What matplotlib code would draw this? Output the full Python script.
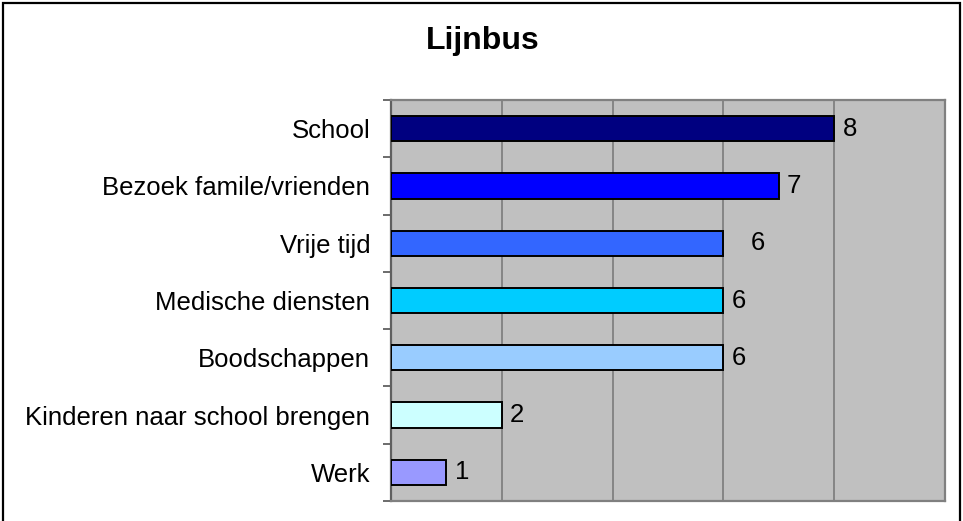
import matplotlib

matplotlib.use("Agg")
import matplotlib.pyplot as plt
from matplotlib.patches import Rectangle

plt.rcParams["font.family"] = ["Liberation Sans", "DejaVu Sans"]

# Lijnbus: reasons for travelling by bus
categories = [
    "School",
    "Bezoek famile/vrienden",
    "Vrije tijd",
    "Medische diensten",
    "Boodschappen",
    "Kinderen naar school brengen",
    "Werk",
]
counts = [8, 7, 6, 6, 6, 2, 1]
colors = ["#000080", "#0000FF", "#3366FF", "#00CCFF", "#99CCFF", "#CCFFFF", "#9999FF"]
# "Vrije tijd" label sits a little further out than the others
label_offsets = [0.15, 0.15, 0.5, 0.15, 0.15, 0.15, 0.15]

fig = plt.figure(figsize=(9.63, 5.21), dpi=100)
ax = fig.add_axes([391 / 963, 1 - 501 / 521, 554 / 963, 401 / 521])
ax.set_facecolor("#C0C0C0")

y = list(range(len(categories)))
ax.barh(y, counts, height=0.44, color=colors, edgecolor="black", linewidth=1.4, zorder=3)
for yi, v, off in zip(y, counts, label_offsets):
    ax.text(v + off, yi, str(v), va="center", ha="left", fontsize=18.5, zorder=4)

ax.set_xlim(0, 10)
ax.set_ylim(len(categories) - 0.5, -0.5)
ax.set_xticks([2, 4, 6, 8])
ax.xaxis.grid(True, color="#808080", linewidth=1.3, zorder=1)
ax.tick_params(axis="x", length=0, labelbottom=False)

ax.set_yticks(y)
ax.set_yticklabels(categories, fontsize=18.5)
ax.set_yticks([i - 0.5 for i in range(len(categories) + 1)], minor=True)
ax.tick_params(axis="y", which="major", length=0, pad=15)
ax.tick_params(axis="y", which="minor", length=6, width=1.3, color="#606060")

for side, sp in ax.spines.items():
    sp.set_color("#808080")
    sp.set_linewidth(1.6)
ax.spines["left"].set_color("#606060")

fig.text(483 / 963, 1 - 41 / 521, "Lijnbus", ha="center", va="center",
         fontsize=23, fontweight="bold")

# outer chart frame
fig.patches.append(Rectangle((3 / 963, -0.05), 957 / 963, 1.05 - 3 / 521,
                             transform=fig.transFigure, fill=False,
                             edgecolor="black", linewidth=1.6))

fig.savefig("out.png", dpi=100)
